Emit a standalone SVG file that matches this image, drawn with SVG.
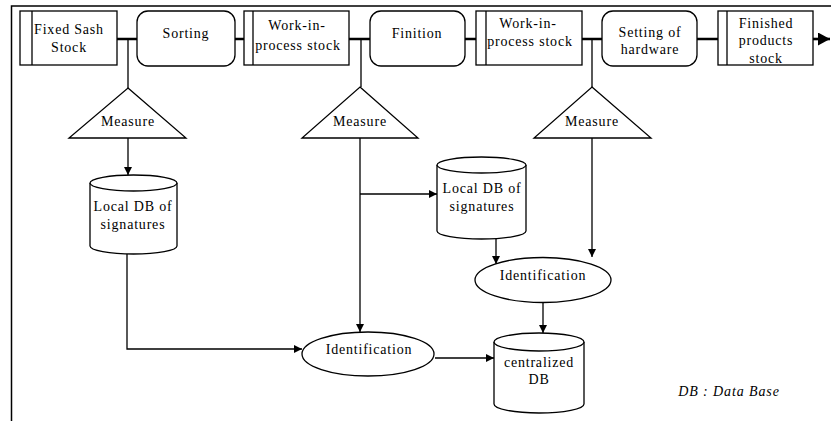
<svg xmlns="http://www.w3.org/2000/svg" width="831" height="421" viewBox="0 0 831 421" font-family="'Liberation Serif', 'DejaVu Serif', serif">
<defs>
<marker id="ah" viewBox="0 0 10 10" refX="10" refY="5" markerWidth="8" markerHeight="8" markerUnits="userSpaceOnUse" orient="auto">
<path d="M0,0 L10,5 L0,10 Z" fill="#000"/>
</marker>
<marker id="ahb" viewBox="0 0 10 10" refX="10" refY="5" markerWidth="12" markerHeight="13" markerUnits="userSpaceOnUse" orient="auto" preserveAspectRatio="none">
<path d="M0,0 L10,5 L0,10 Z" fill="#000"/>
</marker>
</defs>
<style>
.s{fill:#fff;stroke:#000;stroke-width:1.3}
.t{font-family:'Liberation Serif','DejaVu Serif',serif;font-size:14px;letter-spacing:0.8px;fill:#000;text-anchor:middle}
.it{font-style:italic;font-size:14px;letter-spacing:0.9px}
.c{fill:none;stroke:#000;stroke-width:1.3}
.k{fill:none;stroke:#000;stroke-width:2.6}
</style>
<rect width="831" height="421" fill="#fff"/>
<path d="M11.5,421 V6 H831" fill="none" stroke="#000" stroke-width="1.5"/>

<g id="connectors">
<path class="k" d="M117,39 H137 M235,39 H244 M349,39 H370 M465,39 H476 M582,39 H602 M697,39 H718"/>
<path class="k" d="M813,39 H830" marker-end="url(#ahb)"/>
<path class="c" d="M128,39 V88 M361,39 V87 M592,39 V87"/>
<path class="c" d="M128,138 V175" marker-end="url(#ah)"/>
<path class="c" d="M127,254 V349 H302" marker-end="url(#ah)"/>
<path class="c" d="M360,138 V332" marker-end="url(#ah)"/>
<path class="c" d="M360,194 H437" marker-end="url(#ah)"/>
<path class="c" d="M496,239 V264" marker-end="url(#ah)"/>
<path class="c" d="M592,138 V257" marker-end="url(#ah)"/>
<path class="c" d="M543,302 V333" marker-end="url(#ah)"/>
<path class="c" d="M435,358 H494" marker-end="url(#ah)"/>
</g>

<g id="fixed-sash-stock">
<rect class="s" x="20" y="11" width="97" height="54"/>
<line class="c" x1="32" y1="11" x2="32" y2="65"/>
<text class="t" x="69" y="34">Fixed Sash</text>
<text class="t" x="69" y="52">Stock</text>
</g>
<g id="sorting">
<rect class="s" x="137" y="11" width="98" height="55" rx="11"/>
<text class="t" x="186" y="38">Sorting</text>
</g>
<g id="wip-stock-1">
<rect class="s" x="244" y="11" width="105" height="54"/>
<line class="c" x1="253" y1="11" x2="253" y2="65"/>
<text class="t" x="297" y="30">Work-in-</text>
<text class="t" x="298" y="50">process stock</text>
</g>
<g id="finition">
<rect class="s" x="370" y="11" width="95" height="55" rx="11"/>
<text class="t" x="417" y="38">Finition</text>
</g>
<g id="wip-stock-2">
<rect class="s" x="476" y="11" width="106" height="54"/>
<line class="c" x1="486" y1="11" x2="486" y2="65"/>
<text class="t" x="528" y="28">Work-in-</text>
<text class="t" x="530" y="46">process stock</text>
</g>
<g id="setting-of-hardware">
<rect class="s" x="602" y="11" width="95" height="55" rx="11"/>
<text class="t" x="650" y="37">Setting of</text>
<text class="t" x="650" y="54">hardware</text>
</g>
<g id="finished-products-stock">
<rect class="s" x="718" y="11" width="95" height="54"/>
<line class="c" x1="727" y1="11" x2="727" y2="65"/>
<text class="t" x="766" y="28">Finished</text>
<text class="t" x="766" y="45">products</text>
<text class="t" x="766" y="63">stock</text>
</g>

<g id="measure-1">
<path class="s" d="M128,88 L186,138 L69,138 Z"/>
<text class="t" x="128" y="126">Measure</text>
</g>
<g id="measure-2">
<path class="s" d="M360,87 L418,138 L302,138 Z"/>
<text class="t" x="360" y="126">Measure</text>
</g>
<g id="measure-3">
<path class="s" d="M592,87 L651,138 L534,138 Z"/>
<text class="t" x="592" y="126">Measure</text>
</g>

<g id="local-db-1">
<path class="s" d="M90,183 V246 A43.5,8 0 0 0 177,246 V183"/>
<ellipse class="s" cx="133.5" cy="183" rx="43.5" ry="8"/>
<text class="t" x="133" y="211">Local DB of</text>
<text class="t" x="133" y="229">signatures</text>
</g>
<g id="local-db-2">
<path class="s" d="M437,165 V231 A44.5,8 0 0 0 526,231 V165"/>
<ellipse class="s" cx="481.5" cy="165" rx="44.5" ry="8"/>
<text class="t" x="482" y="193">Local DB of</text>
<text class="t" x="482" y="211">signatures</text>
</g>

<g id="identification-1">
<ellipse class="s" cx="368" cy="354" rx="66" ry="22"/>
<text class="t" x="369" y="354">Identification</text>
</g>
<g id="identification-2">
<ellipse class="s" cx="543" cy="280" rx="68" ry="22.5"/>
<text class="t" x="543" y="280">Identification</text>
</g>

<g id="centralized-db">
<path class="s" d="M494,342 V404 A45,9 0 0 0 584,404 V342"/>
<ellipse class="s" cx="539" cy="342" rx="45" ry="9"/>
<text class="t" x="539" y="367">centralized</text>
<text class="t" x="539" y="384">DB</text>
</g>

<g id="legend">
<text class="t it" x="729" y="396">DB : Data Base</text>
</g>
</svg>
